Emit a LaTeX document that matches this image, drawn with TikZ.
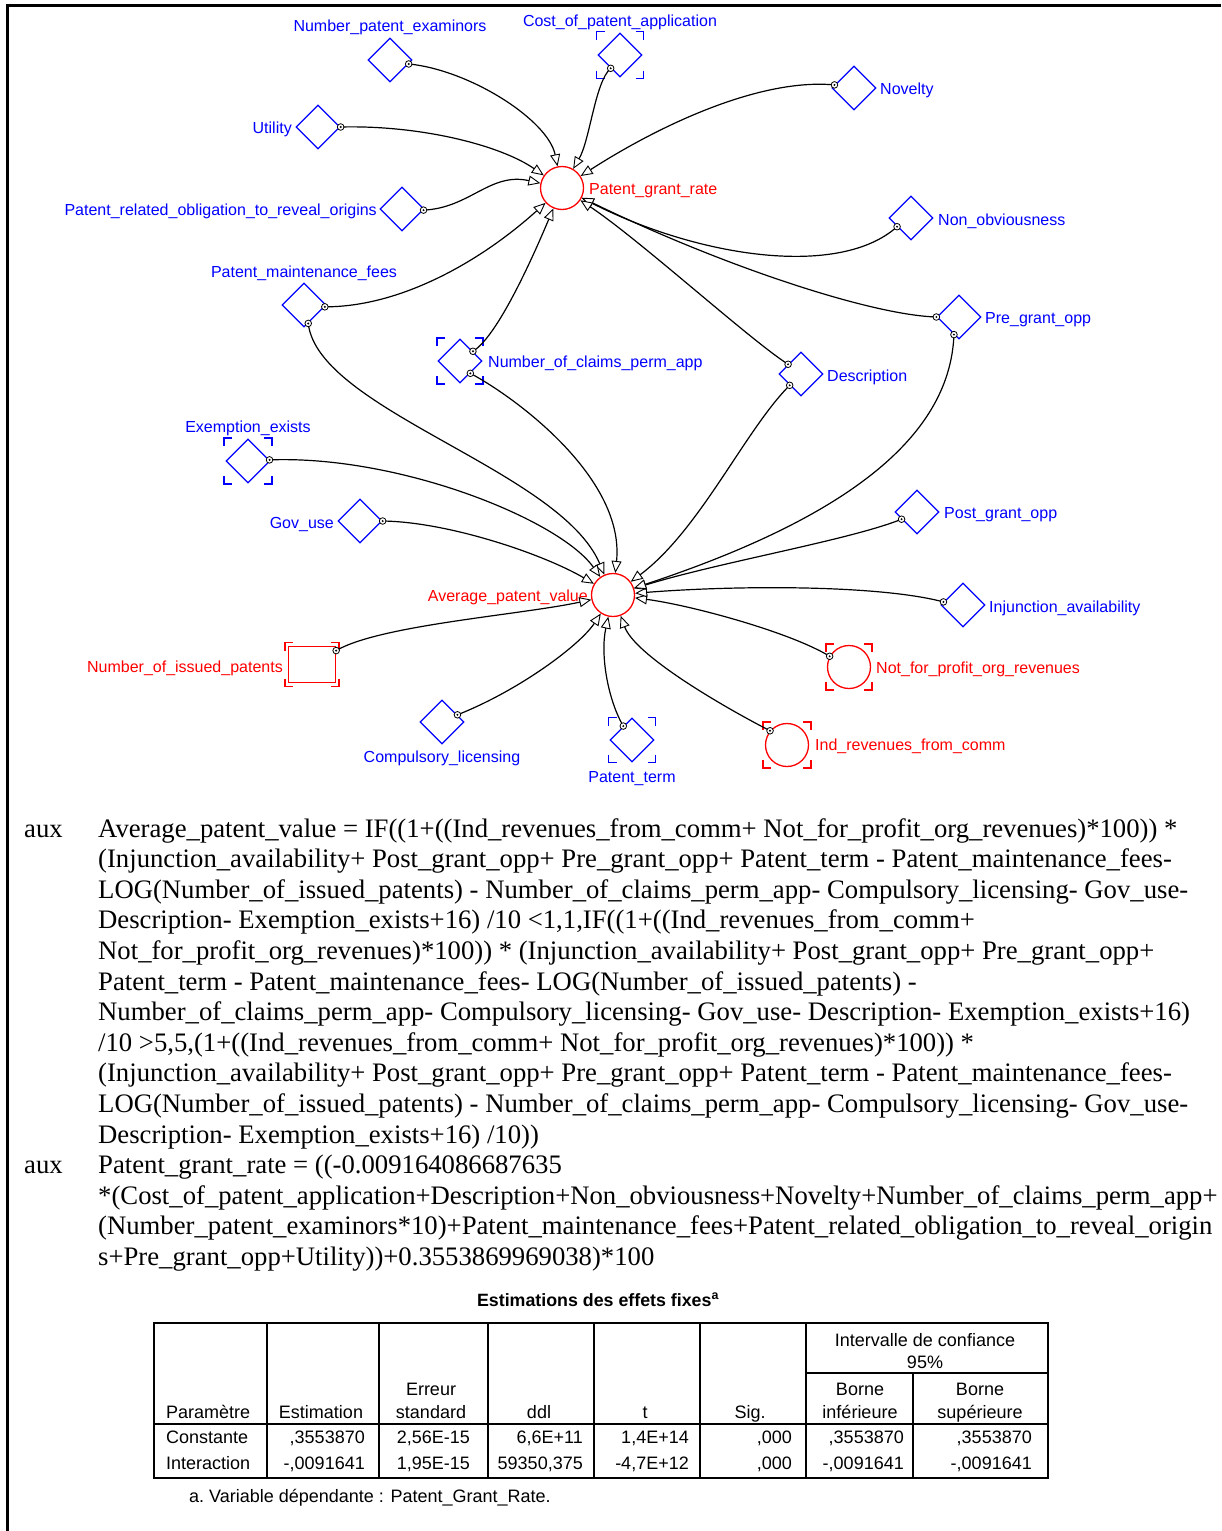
\documentclass[tikz,border=0pt]{standalone}
\usepackage{fontspec}
\setmainfont{Liberation Serif}
\newfontfamily\arialf{Liberation Sans}
\usetikzlibrary{shapes.geometric,arrows.meta,calc}
\definecolor{vblue}{RGB}{0,0,255}
\definecolor{vred}{RGB}{255,0,0}
\newcommand\tapdot[1]{\draw[line width=0.8pt,fill=white] (#1) circle (3.3pt); \fill (#1) circle (1.1pt);}
\newcommand\lnk[4]{\draw[link] (#1) .. controls #2 and #3 .. (#4); \tapdot{#1}}
\newcommand\ghostmark[4]{% color, node, half-w, half-h
  \foreach \sx/\sy in {1/1,1/-1,-1/1,-1/-1}{
    \draw[#1,line width=1.3pt] ($(#2.center)+(\sx*#3,\sy*#4-\sy*8)$) -- ($(#2.center)+(\sx*#3,\sy*#4)$) -- ($(#2.center)+(\sx*#3-\sx*8,\sy*#4)$);
  }}
\begin{document}
\begin{tikzpicture}[x=1pt,y=-1pt,
  auxd/.style={diamond,draw=vblue,line width=1.3pt,minimum width=44pt,minimum height=44pt,inner sep=0pt,aspect=1},
  varc/.style={circle,draw=vred,line width=1.3pt,minimum size=43pt,inner sep=0pt},
  stockr/.style={rectangle,draw=vred,line width=1.3pt,minimum width=47pt,minimum height=36pt,inner sep=0pt},
  lbl/.style={font=\arialf\fontsize{16}{19}\selectfont,inner sep=0pt,text=vblue},
  rlbl/.style={lbl,text=vred},
  link/.style={draw=black,line width=1.2pt,-{Triangle[length=12pt,width=10pt,fill=white,line width=0.9pt]}},
  body/.style={font=\fontsize{26.7}{30.6}\selectfont,inner sep=0pt,anchor=base west},
  tab/.style={font=\arialf\fontsize{18}{21}\selectfont,inner sep=0pt},
  tline/.style={line width=1.3pt},
  tthick/.style={line width=2.6pt}
]
\useasboundingbox (0,0) rectangle (1221,1531);
\draw[line width=3pt] (7,1531) -- (7,5) -- (1221,5);

% ---------- diagram nodes
\node[auxd] (npe) at (390,60) {};
\node[auxd] (cpa) at (620,55) {};
\node[auxd] (nov) at (854,88) {};
\node[auxd] (uti) at (318,127) {};
\node[auxd] (pro) at (402,209) {};
\node[auxd] (nob) at (911,218) {};
\node[auxd] (pmf) at (304,305) {};
\node[auxd] (ncp) at (460,361) {};
\node[auxd] (des) at (801,374) {};
\node[auxd] (pgo) at (959,317) {};
\node[auxd] (exe) at (248,461) {};
\node[auxd] (gov) at (360,521) {};
\node[auxd] (pog) at (917,512) {};
\node[auxd] (inj) at (963,605) {};
\node[auxd] (cl) at (442,722) {};
\node[auxd] (pt) at (632,740) {};
\node[varc] (pgr) at (562,188) {};
\node[varc] (apv) at (613,595) {};
\node[varc] (nfp) at (849,667) {};
\node[varc] (ind) at (787,745) {};
\node[stockr] (nip) at (312,664.5) {};

\ghostmark{vblue}{cpa}{23.5}{23.5}
\ghostmark{vblue}{ncp}{23}{23}
\ghostmark{vblue}{exe}{24}{23}
\ghostmark{vblue}{pt}{23.5}{22.5}
\ghostmark{vred}{nfp}{23}{23}
\ghostmark{vred}{ind}{24}{23}
\ghostmark{vred}{nip}{27}{22}

% ---------- labels
\node[lbl,anchor=base] (npe-l) at (390,31) {Number\_patent\_examinors};
\node[lbl,anchor=base] (cpa-l) at (620,26) {Cost\_of\_patent\_application};
\node[lbl,anchor=base west] (nov-l) at (880,94) {Novelty};
\node[lbl,anchor=base east] (uti-l) at (292,133) {Utility};
\node[lbl,anchor=base east] (pro-l) at (377,215) {Patent\_related\_obligation\_to\_reveal\_origins};
\node[lbl,anchor=base west] (nob-l) at (938,225) {Non\_obviousness};
\node[lbl,anchor=base] (pmf-l) at (304,277) {Patent\_maintenance\_fees};
\node[lbl,anchor=base west] (ncp-l) at (488,367) {Number\_of\_claims\_perm\_app};
\node[lbl,anchor=base west] (des-l) at (827,381) {Description};
\node[lbl,anchor=base west] (pgo-l) at (985,323) {Pre\_grant\_opp};
\node[lbl,anchor=base] (exe-l) at (248,432) {Exemption\_exists};
\node[lbl,anchor=base east] (gov-l) at (334,528) {Gov\_use};
\node[lbl,anchor=base west] (pog-l) at (944,518) {Post\_grant\_opp};
\node[lbl,anchor=base west] (inj-l) at (989,612) {Injunction\_availability};
\node[lbl,anchor=base] (cl-l) at (442,762) {Compulsory\_licensing};
\node[lbl,anchor=base] (pt-l) at (632,782) {Patent\_term};
\node[rlbl,anchor=base west] (pgr-l) at (589,194) {Patent\_grant\_rate};
\node[rlbl,anchor=base east] (apv-l) at (588,601) {Average\_patent\_value};
\node[rlbl,anchor=base west] (nfp-l) at (876,673) {Not\_for\_profit\_org\_revenues};
\node[rlbl,anchor=base west] (ind-l) at (815,750) {Ind\_revenues\_from\_comm};
\node[rlbl,anchor=base east] (nip-l) at (283,672) {Number\_of\_issued\_patents};

% ---------- links to Patent_grant_rate
\lnk{npe.-12}{(470,70)}{(548,120)}{pgr}
\lnk{cpa.-125}{(595,82)}{(590,140)}{pgr}
\lnk{nov.171}{(760,78)}{(660,125)}{pgr}
\lnk{uti.0}{(420,125)}{(500,145)}{pgr}
\lnk{pro.-3}{(470,208)}{(490,172)}{pgr}
\lnk{pmf.-5}{(400,307)}{(480,262)}{pgr}
\lnk{ncp.37}{(500,335)}{(540,240)}{pgr}
\lnk{nob.-148}{(840,278)}{(700,258)}{pgr}
\lnk{pgo.180}{(870,315)}{(720,265)}{pgr}
\lnk{des.143}{(750,340)}{(640,240)}{pgr}

% ---------- links to Average_patent_value
\lnk{pmf.-77}{(318,410)}{(560,470)}{apv}
\lnk{ncp.-50}{(520,400)}{(625,480)}{apv}
\lnk{exe.3}{(400,455)}{(560,520)}{apv}
\lnk{gov.0}{(450,522)}{(545,555)}{apv}
\lnk{nip.30}{(380,625)}{(520,615)}{apv}
\lnk{cl.25}{(520,690)}{(580,645)}{apv}
\lnk{pt.122}{(608,700)}{(600,655)}{apv}
\lnk{ind.140}{(720,705)}{(635,655)}{apv}
\lnk{nfp.151}{(790,632)}{(690,605)}{apv}
\lnk{inj.171}{(880,585)}{(740,585)}{apv}
\lnk{pog.-155}{(850,540)}{(720,562)}{apv}
\lnk{pgo.-106}{(950,440)}{(840,520)}{apv}
\lnk{des.-135}{(745,430)}{(700,530)}{apv}

% ---------- equations
\node[body] (aux1) at (24,837) {aux};
\node[body] (e1) at (98,837) {Average\_patent\_value = IF((1+((Ind\_revenues\_from\_comm+ Not\_for\_profit\_org\_revenues)*100)) *};
\node[body] (e2) at (98,867.6) {(Injunction\_availability+ Post\_grant\_opp+ Pre\_grant\_opp+ Patent\_term - Patent\_maintenance\_fees-};
\node[body] (e3) at (98,898.2) {LOG(Number\_of\_issued\_patents) - Number\_of\_claims\_perm\_app- Compulsory\_licensing- Gov\_use-};
\node[body] (e4) at (98,928.8) {Description- Exemption\_exists+16) /10 <1,1,IF((1+((Ind\_revenues\_from\_comm+};
\node[body] (e5) at (98,959.4) {Not\_for\_profit\_org\_revenues)*100)) * (Injunction\_availability+ Post\_grant\_opp+ Pre\_grant\_opp+};
\node[body] (e6) at (98,990) {Patent\_term - Patent\_maintenance\_fees- LOG(Number\_of\_issued\_patents) -};
\node[body] (e7) at (98,1020.6) {Number\_of\_claims\_perm\_app- Compulsory\_licensing- Gov\_use- Description- Exemption\_exists+16)};
\node[body] (e8) at (98,1051.2) {/10 >5,5,(1+((Ind\_revenues\_from\_comm+ Not\_for\_profit\_org\_revenues)*100)) *};
\node[body] (e9) at (98,1081.8) {(Injunction\_availability+ Post\_grant\_opp+ Pre\_grant\_opp+ Patent\_term - Patent\_maintenance\_fees-};
\node[body] (e10) at (98,1112.4) {LOG(Number\_of\_issued\_patents) - Number\_of\_claims\_perm\_app- Compulsory\_licensing- Gov\_use-};
\node[body] (e11) at (98,1143) {Description- Exemption\_exists+16) /10))};
\node[body] (aux2) at (24,1173.6) {aux};
\node[body] (f1) at (98,1173.6) {Patent\_grant\_rate = ((-0.009164086687635};
\node[body] (f2) at (98,1204.2) {*(Cost\_of\_patent\_application+Description+Non\_obviousness+Novelty+Number\_of\_claims\_perm\_app+};
\node[body] (f3) at (98,1234.8) {(Number\_patent\_examinors*10)+Patent\_maintenance\_fees+Patent\_related\_obligation\_to\_reveal\_origin};
\node[body] (f4) at (98,1265.4) {s+Pre\_grant\_opp+Utility))+0.3553869969038)*100};

% ---------- table
\node[font=\arialf\bfseries\fontsize{17.8}{21}\selectfont,inner sep=0pt,anchor=base] (ttl) at (598,1306) {Estimations des effets fixes\textsuperscript{a}};
\draw[tthick] (154,1323) rectangle (1048,1478);
\foreach \xx in {267,379,488,594,700,806} \draw[tline] (\xx,1323) -- (\xx,1478);
\draw[tline] (913,1373) -- (913,1478);
\draw[tline] (806,1373) -- (1048,1373);
\draw[tline] (154,1424) -- (1048,1424);

\node[tab,anchor=base] (h1) at (925,1346) {Intervalle de confiance};
\node[tab,anchor=base] (h2) at (925,1368) {95\%};
\node[tab,anchor=base] (h3) at (431,1395) {Erreur};
\node[tab,anchor=base] (h4) at (860,1395) {Borne};
\node[tab,anchor=base] (h5) at (980,1395) {Borne};
\node[tab,anchor=base west] (h6) at (166,1418) {Paramètre};
\node[tab,anchor=base] (h7) at (321,1418) {Estimation};
\node[tab,anchor=base] (h8) at (431,1418) {standard};
\node[tab,anchor=base] (h9) at (539,1418) {ddl};
\node[tab,anchor=base] (h10) at (645,1418) {t};
\node[tab,anchor=base] (h11) at (750,1418) {Sig.};
\node[tab,anchor=base] (h12) at (860,1418) {inférieure};
\node[tab,anchor=base] (h13) at (980,1418) {supérieure};

\node[tab,anchor=base west] (r1) at (166,1443) {Constante};
\node[tab,anchor=base east] (r1a) at (365,1443) {,3553870};
\node[tab,anchor=base east] (r1b) at (470,1443) {2,56E-15};
\node[tab,anchor=base east] (r1c) at (583,1443) {6,6E+11};
\node[tab,anchor=base east] (r1d) at (689,1443) {1,4E+14};
\node[tab,anchor=base east] (r1e) at (792,1443) {,000};
\node[tab,anchor=base east] (r1f) at (904,1443) {,3553870};
\node[tab,anchor=base east] (r1g) at (1032,1443) {,3553870};

\node[tab,anchor=base west] (r2) at (166,1469) {Interaction};
\node[tab,anchor=base east] (r2a) at (365,1469) {-,0091641};
\node[tab,anchor=base east] (r2b) at (470,1469) {1,95E-15};
\node[tab,anchor=base east] (r2c) at (583,1469) {59350,375};
\node[tab,anchor=base east] (r2d) at (689,1469) {-4,7E+12};
\node[tab,anchor=base east] (r2e) at (792,1469) {,000};
\node[tab,anchor=base east] (r2f) at (904,1469) {-,0091641};
\node[tab,anchor=base east] (r2g) at (1032,1469) {-,0091641};

\node[tab,anchor=base west] (fn) at (189,1502) {a.\ Variable dépendante : Patent\_Grant\_Rate.};
\end{tikzpicture}
\end{document}
